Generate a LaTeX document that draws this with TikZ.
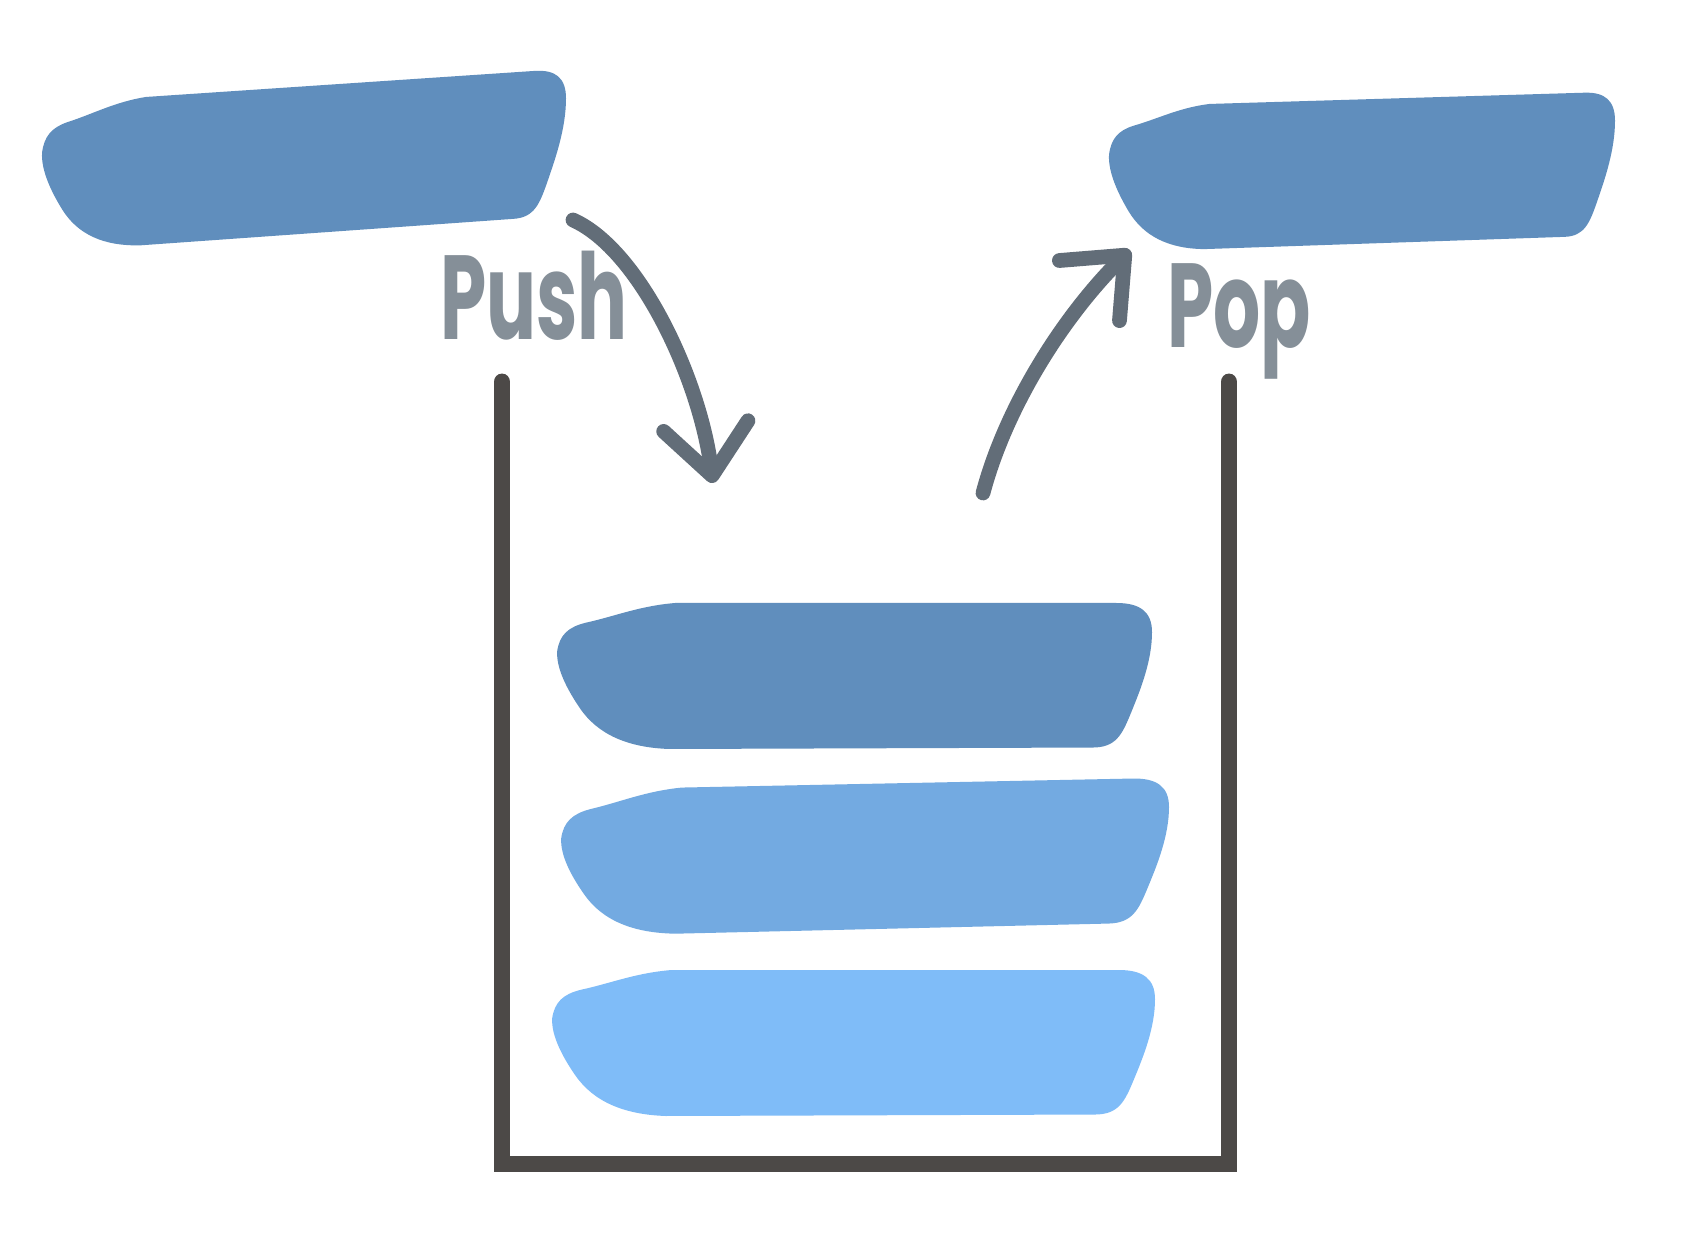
\documentclass[tikz,border=0pt]{standalone}
\usepackage{fontspec}
\setmainfont{Poppins}
\usetikzlibrary{arrows.meta}
\definecolor{stackdark}{RGB}{96, 142, 189}
\definecolor{stackmid}{RGB}{115, 170, 225}
\definecolor{stacklight}{RGB}{127, 188, 248}
\definecolor{wallgray}{RGB}{76, 73, 71}
\definecolor{arrowgray}{RGB}{98, 109, 120}
\definecolor{labelgray}{RGB}{133, 143, 152}

% brush stroke: x, y (top left), width, height, slant, colour
\newcommand{\stackblob}[6]{%
  \begin{scope}[shift={(#1,#2)}, yslant=#5, xscale=#3, yscale=#4]
    \fill[#6] (0.2,0) -- (0.94,0) .. controls (0.98,0) and (1,-0.06) .. (1,-0.2)
      .. controls (1,-0.4) and (0.98,-0.6) .. (0.965,-0.75)
      .. controls (0.95,-0.9) and (0.94,-0.99) .. (0.9,-0.99) -- (0.19,-1)
      .. controls (0.12,-0.99) and (0.07,-0.9) .. (0.04,-0.72)
      .. controls (0.02,-0.6) and (0,-0.45) .. (0.002,-0.33)
      .. controls (0.006,-0.22) and (0.02,-0.165) .. (0.05,-0.135)
      .. controls (0.10,-0.09) and (0.14,-0.02) .. (0.2,0) -- cycle;
  \end{scope}}

\tikzset{
  wall/.style={wallgray, line width=4.8pt, line cap=round},
  move/.style={arrowgray, line width=4.2pt, line cap=round,
    -{Straight Barb[length=5mm, width=8.5mm, round]}},
  handlabel/.style={labelgray, font=\fontsize{34}{36}\selectfont\bfseries, xscale=0.62, inner sep=0pt}
}

\begin{document}
\begin{tikzpicture}
        \fill[white] (0,0) rectangle (17,-12.48);
        \useasboundingbox (0,0) rectangle (17,-12.48);

        % the two loose elements
        \stackblob{0.41}{-1.04}{5.25}{1.48}{0.067}{stackdark}
        \stackblob{11.08}{-1.07}{5.07}{1.45}{0.03}{stackdark}

        % the stack
        \foreach \x/\y/\w/\s/\c in {5.56/-6.03/5.96/0/stackdark, 5.60/-7.90/6.09/0.02/stackmid, 5.51/-9.70/6.04/0/stacklight} {
          \stackblob{\x}{\y}{\w}{1.46}{\s}{\c}
        }
        \draw[wall] (5.02,-3.82) -- (5.02,-11.64) -- (12.29,-11.64) -- (12.29,-3.82);

        \coordinate (pushfrom) at (5.73,-2.20);
        \coordinate (pushto) at (7.13,-4.83);
        \coordinate (popfrom) at (9.83,-4.93);
        \coordinate (popto) at (11.30,-2.50);
        \draw[move] (pushfrom) .. controls (6.40,-2.50) and (7.00,-3.80) .. (pushto);
        \draw[move] (popfrom) .. controls (10.05,-4.10) and (10.60,-3.20) .. (popto);

        \node[handlabel, anchor=base west] (push) at (4.40,-3.40) {Push};
        \node[handlabel, anchor=base west] (pop) at (11.67,-3.48) {Pop};
      \end{tikzpicture}
\end{document}
